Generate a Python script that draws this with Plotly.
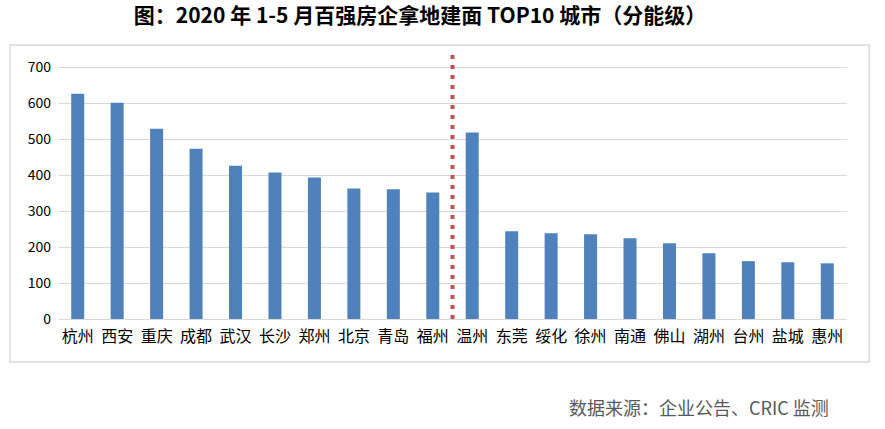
import plotly.graph_objects as go

cities = ["杭州", "西安", "重庆", "成都", "武汉", "长沙", "郑州", "北京", "青岛", "福州",
          "温州", "东莞", "绥化", "徐州", "南通", "佛山", "湖州", "台州", "盐城", "惠州"]
values = [627, 602, 530, 474, 427, 408, 394, 363, 361, 352,
          519, 244, 239, 236, 225, 211, 183, 161, 158, 155]
y_ticks = [0, 100, 200, 300, 400, 500, 600, 700]
title_text = "图：2020 年 1-5 月百强房企拿地建面 TOP10 城市（分能级）"
source_text = "数据来源：企业公告、CRIC 监测"
divider_pos = 9.5

font_cjk = "Noto Sans CJK SC, Microsoft YaHei, sans-serif"

W, H = 885, 429

fig = go.Figure()
fig.add_trace(go.Bar(
    x=list(range(len(cities))), y=values,
    marker=dict(color="#4F81BD", line=dict(width=0)),
    width=0.33,
    hoverinfo="x+y",
))

fig.add_shape(type="line", xref="x", yref="y",
              x0=divider_pos, x1=divider_pos, y0=0, y1=735,
              line=dict(color="#C0504D", width=4, dash="4px,6px"))

fig.add_shape(type="rect", xref="paper", yref="paper",
              x0=-0.0608, x1=1.028, y0=-0.163, y1=1.038,
              line=dict(color="#D9D9D9", width=1.5), fillcolor="rgba(0,0,0,0)",
              layer="below")

fig.add_annotation(text=source_text, xref="paper", yref="paper",
                   x=0.98, y=-0.333, xanchor="right", yanchor="middle",
                   showarrow=False,
                   font=dict(family=font_cjk, size=18, color="#595959"))

fig.update_layout(
    width=W, height=H,
    margin=dict(l=58, r=38, t=55, b=110),
    paper_bgcolor="white", plot_bgcolor="white",
    title=dict(text="<b>" + title_text + "</b>", x=420 / W, xanchor="center",
               y=1 - 16 / H, yanchor="middle",
               font=dict(family=font_cjk, size=21, color="black")),
    showlegend=False,
    xaxis=dict(tickmode="array", tickvals=list(range(len(cities))), ticktext=cities,
               range=[-0.5, len(cities) - 0.5], showgrid=False, showline=False,
               ticks="", zeroline=False, ticklabelstandoff=6,
               tickfont=dict(family=font_cjk, size=16, color="#000000")),
    yaxis=dict(range=[0, 735], tickvals=y_ticks, showgrid=True, gridcolor="#D9D9D9",
               gridwidth=1.3, zeroline=True, zerolinecolor="#D9D9D9", zerolinewidth=1.3,
               showline=False, ticks="", ticklen=0, ticklabelstandoff=6,
               tickfont=dict(family=font_cjk, size=14, color="#000000")),
)

fig.write_html("out.html", config={"displayModeBar": False},
               post_script="document.body.style.margin='0px';document.body.style.overflow='hidden';")
